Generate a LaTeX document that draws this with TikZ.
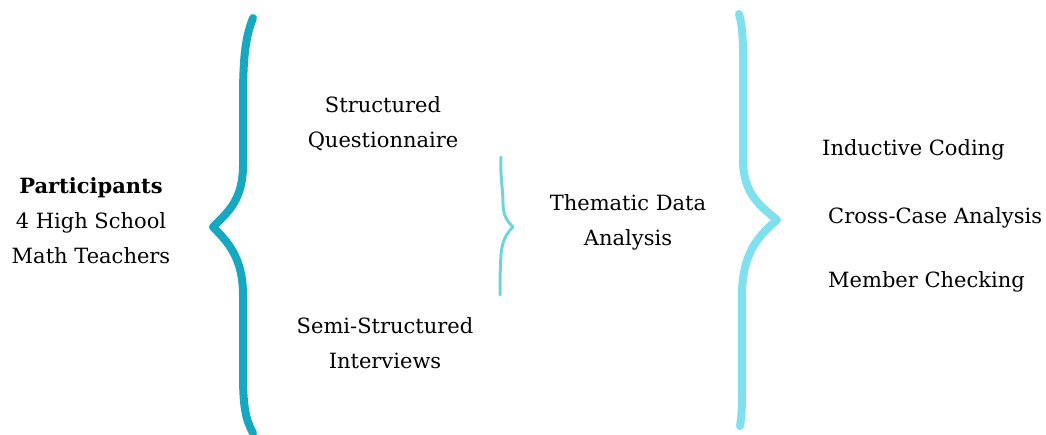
\documentclass[tikz,border=0pt]{standalone}
\usepackage{fontspec}
\setmainfont{DejaVu Serif}
\begin{document}
\begin{tikzpicture}[x=1pt,y=-1pt,
  label/.style={font=\fontsize{21}{35}\selectfont, align=center, text=black, inner sep=0pt},
  bigbrace/.style={line width=8pt, line cap=round, line join=round},
  smallbrace/.style={line width=3pt, line cap=round, line join=round}]
\definecolor{braceA}{RGB}{22,168,192}
\definecolor{braceB}{RGB}{112,212,218}
\definecolor{braceC}{RGB}{128,224,238}
\useasboundingbox[fill=white] (0,0) rectangle (1046,435);

% left brace: participants to the two instruments
\draw[bigbrace, braceA] (253,18) .. controls (245,38) and (243,60) .. (243,100)
  -- (243,165) .. controls (243,200) and (228,212) .. (213,227)
  .. controls (228,242) and (243,258) .. (243,295)
  -- (243,375) .. controls (243,408) and (246,420) .. (253,433);

% middle brace: instruments merge into the analysis
\draw[smallbrace, braceB] (501,157) .. controls (500,175) and (503,190) .. (503,203)
  .. controls (503,215) and (507,221) .. (513,227)
  .. controls (507,233) and (502,240) .. (501,255)
  .. controls (500,270) and (500,285) .. (500,295);

% right brace: analysis to its three steps
\draw[bigbrace, braceC] (739,14) .. controls (744,30) and (743,55) .. (743,95)
  -- (743,160) .. controls (743,195) and (762,207) .. (777,220)
  .. controls (762,233) and (742,250) .. (742,295)
  -- (742,380) .. controls (742,405) and (742,415) .. (740,426);

\node[label] (part) at (91,221) {\textbf{Participants}\\4 High School\\Math Teachers};
\node[label] (quest) at (383,124) {Structured\\Questionnaire};
\node[label] (inter) at (385,343) {Semi-Structured\\Interviews};
\node[label] (thema) at (628,222) {Thematic Data\\Analysis};
\node[label, anchor=west] (induct) at (822,150) {Inductive Coding};
\node[label, anchor=west] (cross) at (828,218) {Cross-Case Analysis};
\node[label, anchor=west] (member) at (828,282) {Member Checking};
\end{tikzpicture}
\end{document}
